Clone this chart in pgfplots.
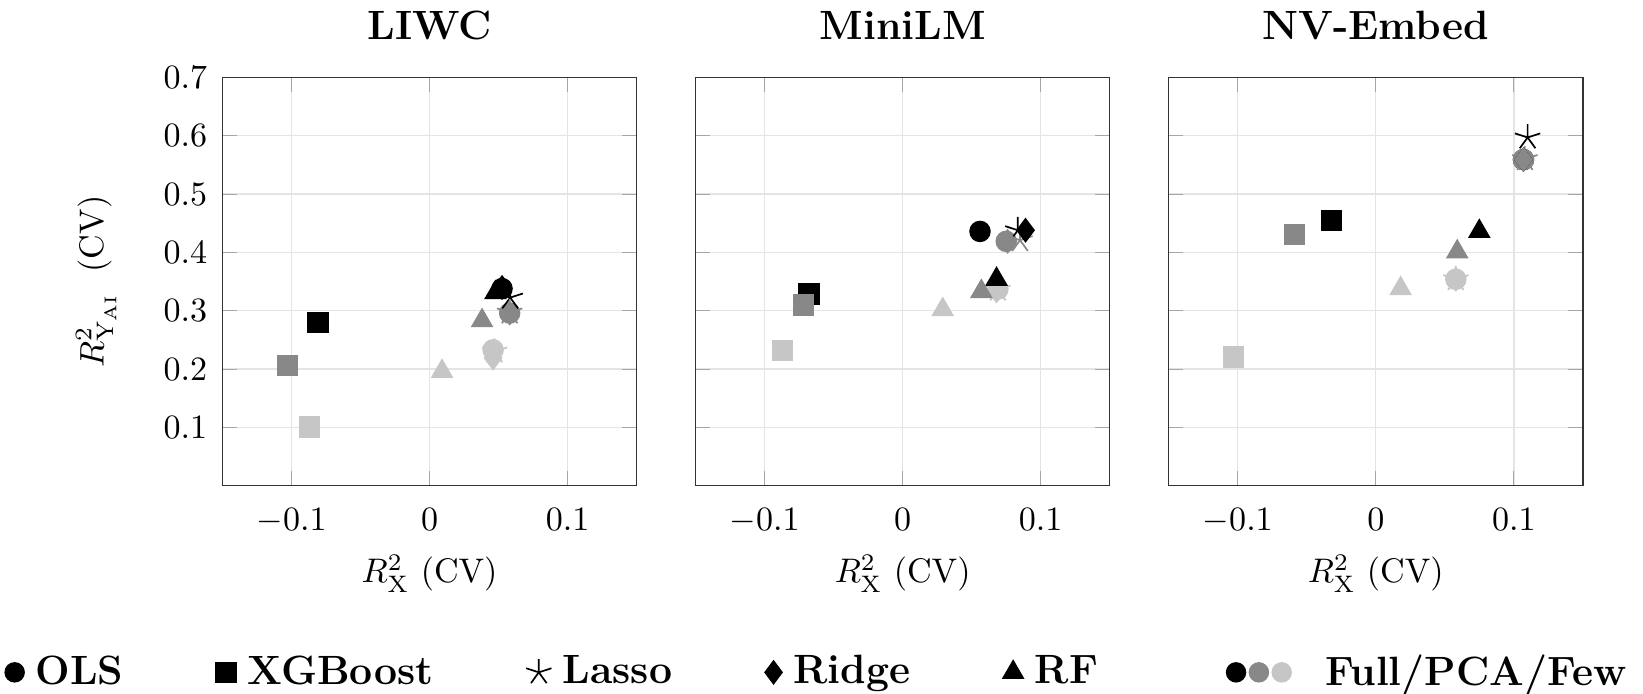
\documentclass[border=0pt]{standalone}
\usepackage{pgfplots}
\pgfplotsset{compat=1.18}
\usepgfplotslibrary{groupplots}
\definecolor{pcagray}{RGB}{136,136,136}
\definecolor{fewgray}{RGB}{198,198,198}
\definecolor{gridgray}{RGB}{228,228,228}
\pgfplotsset{
  ols/.style={only marks, mark=*, mark size=2.95pt, forget plot},
  xgb/.style={only marks, mark=square*, mark size=2.95pt, forget plot},
  lasso/.style={only marks, mark=star, mark size=3.9pt, forget plot, mark options={line width=0.5pt}},
  ridge/.style={only marks, mark=diamond*, mark size=3.35pt, forget plot},
  rf/.style={only marks, mark=triangle*, mark size=3.45pt, forget plot},
  full/.style={black},
  pca/.style={pcagray},
  few/.style={fewgray},
}
\begin{document}
\begin{tikzpicture}
\begin{groupplot}[
  group style={group size=3 by 1, horizontal sep=17.3pt, yticklabels at=edge left, ylabels at=edge left},
  width=121.5pt, height=119.8pt, scale only axis,
  xmin=-0.15, xmax=0.15, ymin=0, ymax=0.7,
  xtick={-0.1,0,0.1}, ytick={0.1,0.2,0.3,0.4,0.5,0.6,0.7},
  grid=major, grid style={gridgray, line width=0.4pt},
  major tick length=4.3pt, tick style={black!35},
  axis line style={black!80},
  xticklabel style={yshift=-3.3pt},
  yticklabel style={xshift=-1pt},
  title style={font=\large\bfseries, at={(0.5,1)}, anchor=base, yshift=5pt},
  xlabel={$R^2_{\mathrm{X}}$ (CV)},
  xlabel style={at={(axis description cs:0.5,0)}, anchor=base, yshift=-28.5pt},
  ylabel={$R^2_{\mathrm{Y}_{\mathrm{AI}}}$\hspace{0.6em}(CV)},
  ylabel style={at={(axis description cs:-0.287,0.5)}, anchor=base},
]
% ---------------- LIWC ----------------
\nextgroupplot[title={LIWC},
  legend columns=6,
  legend style={at={(axis description cs:-0.539,-0.457)}, anchor=west, draw=none,
    font=\large\bfseries, inner xsep=1.5pt, inner ysep=0pt,
    nodes={inner xsep=3.33pt, inner ysep=1pt},
    /tikz/every even column/.append style={column sep=23.9pt}},
  legend image code/.code={\draw[#1] plot coordinates {(0pt,0pt)};},
]
\addlegendimage{only marks, mark=*, mark size=2.8pt, black}
\addlegendentry{OLS}
\addlegendimage{only marks, mark=square*, mark size=2.95pt, black}
\addlegendentry{XGBoost}
\addlegendimage{only marks, mark=star, mark size=3.9pt, black, mark options={line width=0.5pt}}
\addlegendentry{Lasso}
\addlegendimage{only marks, mark=diamond*, mark size=3.35pt, black}
\addlegendentry{Ridge}
\addlegendimage{only marks, mark=triangle*, mark size=3.45pt, black}
\addlegendentry{RF}
\addlegendimage{legend image code/.code={\path (-10.3pt,0pt); \fill[black] (2.8pt,0pt) circle[radius=2.8pt]; \fill[pcagray] (9.5pt,0pt) circle[radius=2.8pt]; \fill[fewgray] (16.2pt,0pt) circle[radius=2.8pt]; \path (25.5pt,0pt);}}
\addlegendentry{Full/PCA/Few}
\addplot[ols,full] coordinates {(0.0525,0.338)};
\addplot[ols,pca]  coordinates {(0.058,0.296)};
\addplot[ols,few]  coordinates {(0.046,0.233)};
\addplot[xgb,full] coordinates {(-0.081,0.280)};
\addplot[xgb,pca]  coordinates {(-0.103,0.206)};
\addplot[xgb,few]  coordinates {(-0.087,0.101)};
\addplot[lasso,full] coordinates {(0.0584,0.3225)};
\addplot[lasso,pca]  coordinates {(0.058,0.297)};
\addplot[lasso,few]  coordinates {(0.047,0.230)};
\addplot[ridge,full] coordinates {(0.0525,0.340)};
\addplot[ridge,pca]  coordinates {(0.058,0.296)};
\addplot[ridge,few]  coordinates {(0.046,0.219)};
\addplot[rf,full] coordinates {(0.0477,0.331)};
\addplot[rf,pca]  coordinates {(0.038,0.283)};
\addplot[rf,few]  coordinates {(0.009,0.196)};
% ---------------- MiniLM ----------------
\nextgroupplot[title={MiniLM}]
\addplot[ols,full] coordinates {(0.056,0.436)};
\addplot[ols,pca]  coordinates {(0.075,0.419)};
\addplot[ols,few]  coordinates {(0.069,0.337)};
\addplot[xgb,full] coordinates {(-0.068,0.329)};
\addplot[xgb,pca]  coordinates {(-0.072,0.310)};
\addplot[xgb,few]  coordinates {(-0.087,0.232)};
\addplot[lasso,full] coordinates {(0.0834,0.438)};
\addplot[lasso,pca]  coordinates {(0.085,0.421)};
\addplot[lasso,few]  coordinates {(0.069,0.336)};
\addplot[ridge,full] coordinates {(0.089,0.438)};
\addplot[ridge,pca]  coordinates {(0.076,0.419)};
\addplot[ridge,few]  coordinates {(0.068,0.334)};
\addplot[rf,full] coordinates {(0.068,0.354)};
\addplot[rf,pca]  coordinates {(0.057,0.333)};
\addplot[rf,few]  coordinates {(0.029,0.302)};
% ---------------- NV-Embed ----------------
\nextgroupplot[title={NV-Embed}]
\addplot[ols,full] coordinates {(0.107,0.559)};
\addplot[ols,pca]  coordinates {(0.107,0.559)};
\addplot[ols,few]  coordinates {(0.058,0.354)};
\addplot[xgb,full] coordinates {(-0.032,0.455)};
\addplot[xgb,pca]  coordinates {(-0.059,0.431)};
\addplot[xgb,few]  coordinates {(-0.103,0.221)};
\addplot[lasso,full] coordinates {(0.110,0.597)};
\addplot[lasso,pca]  coordinates {(0.108,0.560)};
\addplot[lasso,few]  coordinates {(0.058,0.354)};
\addplot[ridge,full] coordinates {(0.107,0.559)};
\addplot[ridge,pca]  coordinates {(0.107,0.559)};
\addplot[ridge,few]  coordinates {(0.058,0.354)};
\addplot[rf,full] coordinates {(0.075,0.436)};
\addplot[rf,pca]  coordinates {(0.059,0.401)};
\addplot[rf,few]  coordinates {(0.018,0.338)};
\end{groupplot}
\end{tikzpicture}
\end{document}
